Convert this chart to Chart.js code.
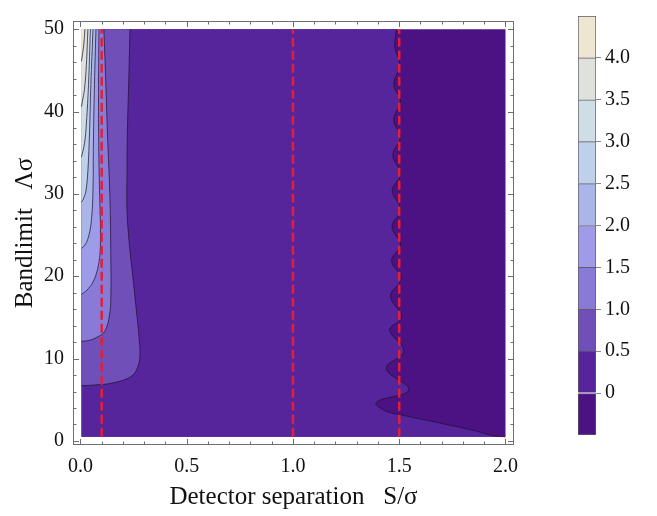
<!DOCTYPE html>
<html>
<head>
<meta charset="utf-8">
<script src="https://cdn.jsdelivr.net/npm/chart.js@4/dist/chart.umd.min.js"></script>
<style>
  html, body { margin: 0; padding: 0; background: #fff; }
  #wrap { position: relative; width: 657px; height: 516px; }
  #main { position: absolute; left: 0; top: 0; }
  #bar { position: absolute; left: 557px; top: 0; }
</style>
</head>
<body>
<div id="wrap">
  <canvas id="main" width="657" height="516"></canvas>
  <canvas id="bar" width="100" height="516"></canvas>
</div>
<script>
/* ---- Data: plotted domain and axes ---- */
const xRange = [0.005, 2.0];
const yRange = [0.5, 50];
const xTicks = [0, 0.5, 1.0, 1.5, 2.0];
const xTickLabels = ['0.0', '0.5', '1.0', '1.5', '2.0'];
const yTicks = [0, 10, 20, 30, 40, 50];
const yTickLabels = ['0', '10', '20', '30', '40', '50'];
const markerLines = [0.1, 1.0, 1.5];

/* ---- Data: contour levels and colours ---- */
const bandEdges = [-0.5, 0, 0.5, 1.0, 1.5, 2.0, 2.5, 3.0, 3.5, 4.0, 4.5];
const bandColors = ['#4c1182', '#57259b', '#7050b8', '#8a7ad8', '#9e9ce8',
                    '#aab6e8', '#bed0ea', '#cfdee6', '#dfe1dd', '#efe6d2'];
const colorbarTicks = [0, 0.5, 1.0, 1.5, 2.0, 2.5, 3.0, 3.5, 4.0];
const colorbarLabels = ['0', '0.5', '1.0', '1.5', '2.0', '2.5', '3.0', '3.5', '4.0'];

/* ---- Data: contour lines, [S/sigma, Lambda sigma] ---- */
const contour0 = [[1.486, 50], [1.480, 47.8], [1.502, 45.7], [1.475, 43.3], [1.505, 41.2],
  [1.474, 39.0], [1.505, 36.9], [1.470, 34.7], [1.506, 32.4], [1.467, 30.4], [1.506, 28.1],
  [1.466, 26.0], [1.506, 23.8], [1.464, 21.9], [1.508, 19.7], [1.459, 17.6], [1.511, 15.0],
  [1.455, 13.5], [1.522, 10.9], [1.439, 8.8], [1.545, 6.2], [1.392, 4.7], [1.431, 3.7],
  [1.502, 3.2], [1.705, 2.1], [1.862, 1.2], [1.939, 0.65], [2.0, 0.5]];
const contour05 = [[0.233, 50], [0.228, 44.5], [0.221, 37.5], [0.219, 32.2], [0.219, 28.1],
  [0.229, 24.2], [0.245, 20.3], [0.261, 16.4], [0.276, 12.5], [0.280, 10.5], [0.270, 9.0],
  [0.237, 7.8], [0.143, 7.0], [0.068, 6.8], [0.005, 6.7]];
const contour10 = [[0.110, 50], [0.118, 44.5], [0.127, 37.5], [0.139, 29.3], [0.143, 22.2],
  [0.143, 17.6], [0.137, 15.3], [0.114, 13.3], [0.078, 12.6], [0.040, 12.2], [0.005, 12.1]];
const contour15 = [[0.087, 50], [0.085, 42.2], [0.087, 34.0], [0.092, 28.1], [0.094, 25.8],
  [0.092, 22.8], [0.080, 20.8], [0.059, 19.3], [0.030, 18.3], [0.005, 17.8]];
const contour20 = [[0.073, 50], [0.066, 43.3], [0.061, 36.3], [0.059, 30.4], [0.052, 26.9],
  [0.038, 24.8], [0.019, 23.7], [0.005, 23.4]];
const contour25 = [[0.059, 50], [0.049, 43.3], [0.042, 36.9], [0.035, 32.8], [0.026, 30.4],
  [0.014, 29.4], [0.005, 29.0]];
const contour30 = [[0.047, 50], [0.038, 43.3], [0.028, 38.6], [0.019, 36.1], [0.005, 34.5]];
const contour35 = [[0.035, 50], [0.028, 45.7], [0.019, 42.7], [0.009, 41.2], [0.005, 40.6]];
const contour40 = [[0.021, 50], [0.016, 48.2], [0.009, 46.8], [0.005, 46.1]];

const contours = [contour0, contour05, contour10, contour15, contour20,
                  contour25, contour30, contour35, contour40];

/* ---- Styling ---- */
const FONT = "'Liberation Serif', 'DejaVu Serif', serif";
const LINE = 'rgba(28,16,48,0.72)';
const RED = '#e0203a';
const FRAME = '#6e6e6e';

const toPts = (arr) => arr.map(([x, y]) => ({ x, y }));

// closed region {f > level}: the contour, then the plot-domain corners
// (end points doubled so the spline stays straight along the edges)
function region(curve, corners) {
  const pts = curve.concat([curve[curve.length - 1]]);
  corners.forEach((c) => pts.push(c, c));
  return toPts(pts);
}

const [x0, x1] = xRange;
const [y0, y1] = yRange;

const datasets = [];

// darkest band covers the whole domain
datasets.push({
  data: toPts([[x0, y0], [x1, y0], [x1, y1], [x0, y1]]),
  fill: 'shape', backgroundColor: bandColors[0], borderWidth: 0, tension: 0, order: 30,
});

contours.forEach((c, i) => {
  const corners = i === 0 ? [[x0, y0], [x0, y1]] : [[x0, y1]];
  datasets.push({
    data: region(c, corners),
    fill: 'shape', backgroundColor: bandColors[i + 1], borderWidth: 0, tension: 0.4,
    order: 29 - i,
  });
  datasets.push({
    data: toPts(c),
    fill: false, borderColor: LINE, borderWidth: 1, tension: 0.4, order: 2,
  });
});

markerLines.forEach((v) => {
  datasets.push({
    data: toPts([[v, y0], [v, y1]]),
    fill: false, borderColor: RED, borderWidth: 2.5, borderDash: [9, 4], tension: 0, order: 0,
  });
});

/* ---- Frame with inward ticks on all four sides ---- */
const frameTicks = {
  id: 'frameTicks',
  afterDraw(chart) {
    const { ctx, chartArea: a, scales: { x, y } } = chart;
    ctx.save();
    ctx.strokeStyle = FRAME;
    ctx.lineWidth = 1;
    ctx.strokeRect(a.left + 0.5, a.top + 0.5, a.right - a.left - 1, a.bottom - a.top - 1);

    const xMinor = [];
    for (let k = 1; k < 20; k++) if (k % 5) xMinor.push(k / 10);
    const yMinor = [];
    for (let k = 2; k < 50; k += 2) if (k % 10) yMinor.push(k);

    ctx.beginPath();
    const xt = (v, len) => {
      const p = Math.round(x.getPixelForValue(v)) + 0.5;
      ctx.moveTo(p, a.bottom); ctx.lineTo(p, a.bottom - len);
      ctx.moveTo(p, a.top); ctx.lineTo(p, a.top + len);
    };
    const yt = (v, len) => {
      const p = Math.round(y.getPixelForValue(v)) + 0.5;
      ctx.moveTo(a.left, p); ctx.lineTo(a.left + len, p);
      ctx.moveTo(a.right, p); ctx.lineTo(a.right - len, p);
    };
    xTicks.forEach((v) => xt(v, 6));
    xMinor.forEach((v) => xt(v, 3.5));
    yTicks.forEach((v) => yt(v, 6));
    yMinor.forEach((v) => yt(v, 3.5));
    ctx.stroke();
    ctx.restore();
  },
};

new Chart(document.getElementById('main'), {
  type: 'line',
  data: { datasets },
  options: {
    responsive: false,
    animation: false,
    layout: { padding: { top: 5, right: 143, left: 0, bottom: 0 } },
    elements: { point: { radius: 0 } },
    plugins: { legend: { display: false }, tooltip: { enabled: false } },
    scales: {
      x: {
        type: 'linear', min: -0.035, max: 2.04,
        afterFit: (s) => { s.height = 71; },
        afterBuildTicks: (s) => { s.ticks = xTicks.map((v) => ({ value: v })); },
        ticks: {
          callback: (v, i) => xTickLabels[i],
          font: { family: FONT, size: 20 }, color: '#111', padding: 10,
          maxRotation: 0, autoSkip: false,
        },
        grid: { display: false, drawTicks: false },
        border: { display: false },
        title: {
          display: true, text: 'Detector separation   S/σ',
          font: { family: FONT, size: 25 }, color: '#111', padding: { top: 0, bottom: 4 },
        },
      },
      y: {
        type: 'linear', min: -0.49, max: 50.99,
        afterFit: (s) => { s.width = 73; },
        afterBuildTicks: (s) => { s.ticks = yTicks.map((v) => ({ value: v })); },
        ticks: {
          callback: (v, i) => yTickLabels[i],
          font: { family: FONT, size: 20 }, color: '#111', padding: 9,
          autoSkip: false,
        },
        grid: { display: false, drawTicks: false },
        border: { display: false },
        title: {
          display: true, text: 'Bandlimit   Λσ',
          font: { family: FONT, size: 25 }, color: '#111', padding: { top: 10, bottom: 0 },
        },
      },
    },
  },
  plugins: [frameTicks],
});

/* ---- Colour bar ---- */
new Chart(document.getElementById('bar'), {
  type: 'bar',
  data: {
    labels: [''],
    datasets: bandColors.map((c, i) => ({
      data: [[bandEdges[i], bandEdges[i + 1]]],
      backgroundColor: c,
      borderColor: '#5e5a66',
      borderWidth: { top: 1, left: 1, right: 1, bottom: i === 0 ? 1 : 0 },
      borderSkipped: false,
      barPercentage: 1,
      categoryPercentage: 1,
      grouped: false,
    })),
  },
  options: {
    responsive: false,
    animation: false,
    layout: { padding: { left: 21, top: 15, bottom: 81, right: 0 } },
    plugins: { legend: { display: false }, tooltip: { enabled: false } },
    scales: {
      x: { display: false },
      y: {
        position: 'right', min: -0.5, max: 4.5,
        afterFit: (s) => { s.width = 61; },
        afterBuildTicks: (s) => { s.ticks = colorbarTicks.map((v) => ({ value: v })); },
        ticks: {
          callback: (v, i) => colorbarLabels[i],
          font: { family: FONT, size: 20 }, color: '#111', padding: 4, autoSkip: false,
        },
        grid: { drawOnChartArea: false, drawTicks: true, tickLength: 5, color: '#888' },
        border: { display: false },
      },
    },
  },
});
</script>
</body>
</html>
